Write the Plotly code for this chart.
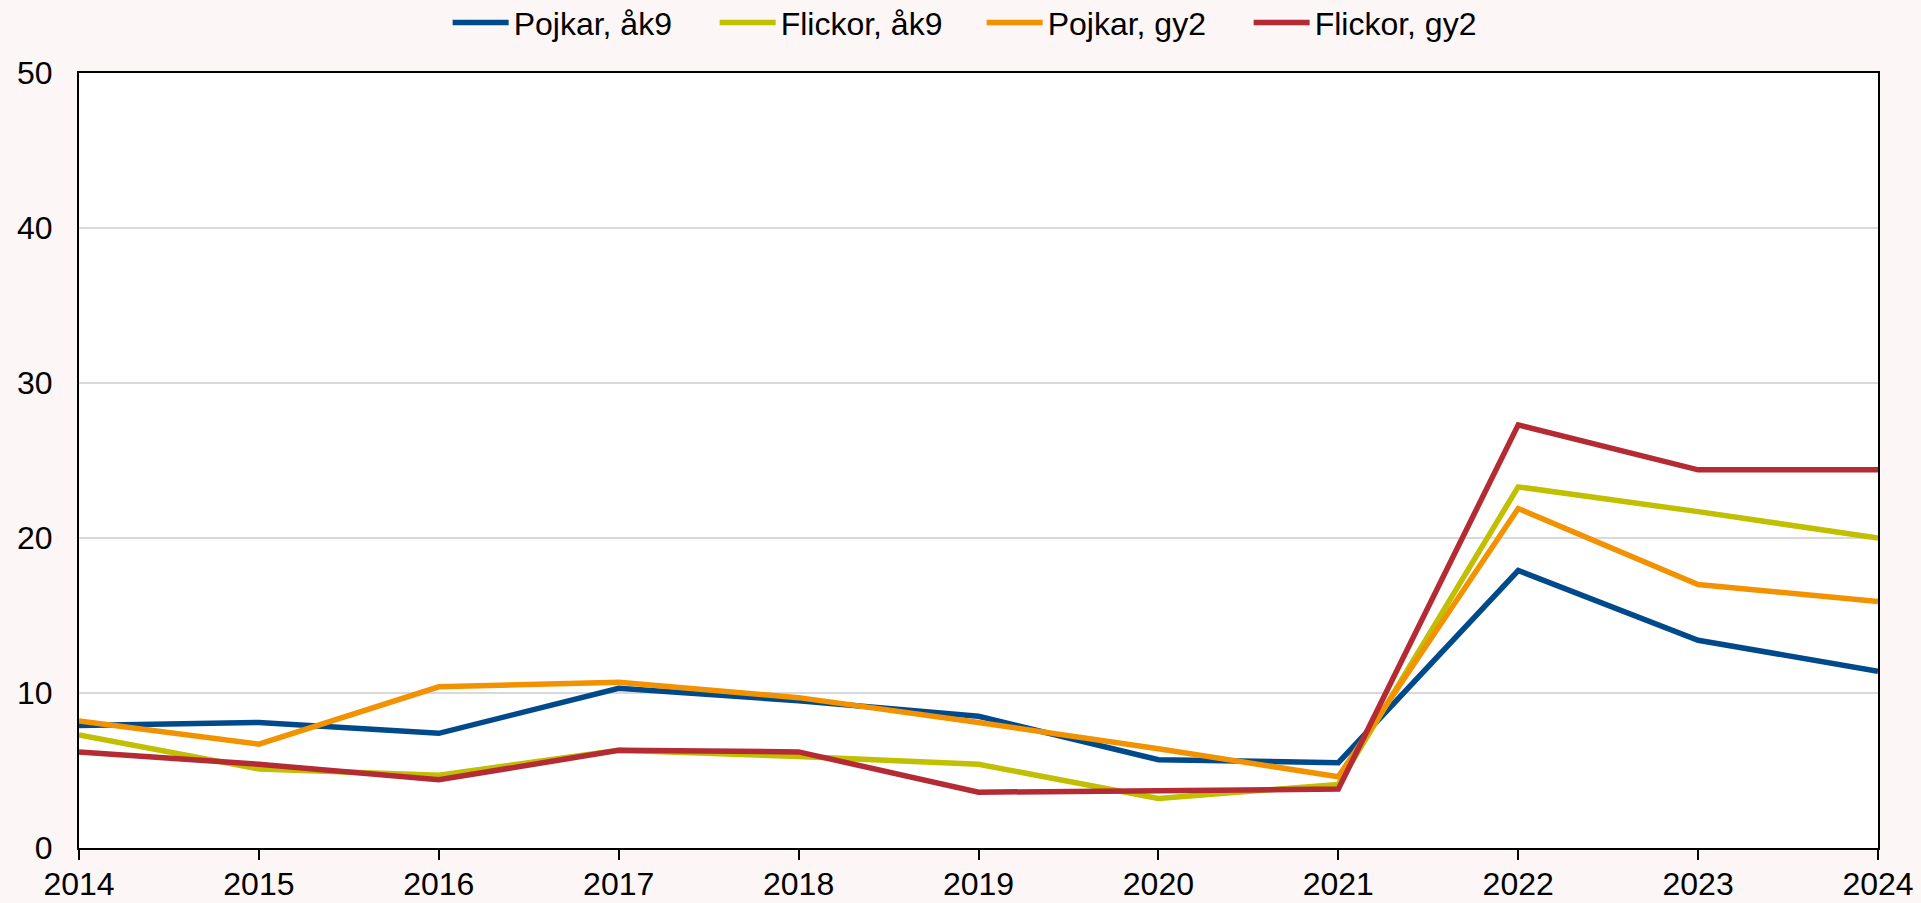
import plotly.graph_objects as go

years = [2014, 2015, 2016, 2017, 2018, 2019, 2020, 2021, 2022, 2023, 2024]
pojkar_ak9 = [7.9, 8.1, 7.4, 10.3, 9.5, 8.5, 5.7, 5.5, 17.9, 13.4, 11.4]
flickor_ak9 = [7.3, 5.1, 4.7, 6.3, 5.9, 5.4, 3.2, 4.1, 23.3, 21.7, 20.0]
pojkar_gy2 = [8.2, 6.7, 10.4, 10.7, 9.7, 8.1, 6.4, 4.6, 21.9, 17.0, 15.9]
flickor_gy2 = [6.2, 5.4, 4.4, 6.3, 6.2, 3.6, 3.7, 3.8, 27.3, 24.4, 24.4]

series = [
    ("Pojkar, åk9", pojkar_ak9, "#004a8c"),
    ("Flickor, åk9", flickor_ak9, "#c0bf00"),
    ("Pojkar, gy2", pojkar_gy2, "#f39200"),
    ("Flickor, gy2", flickor_gy2, "#b52b33"),
]

fig = go.Figure()
for name, vals, col in series:
    fig.add_trace(go.Scatter(x=years, y=vals, name=name, mode="lines",
                             line=dict(color=col, width=5.5)))

font = "Liberation Sans, Arial, sans-serif"
fig.update_layout(
    width=1921, height=903,
    margin=dict(l=79, r=43, t=73, b=55, autoexpand=False),
    paper_bgcolor="#fcf6f6",
    plot_bgcolor="#ffffff",
    font=dict(family=font, size=32, color="#000000"),
    legend=dict(orientation="h", xref="container", yref="container",
                x=0.511, xanchor="center", y=0.975, yanchor="middle",
                font=dict(size=32), itemwidth=56, entrywidth=196,
                bgcolor="rgba(0,0,0,0)"),
    xaxis=dict(range=[2014, 2024], tickmode="array", tickvals=years,
               ticktext=[str(y) for y in years], showgrid=False,
               showline=True, linecolor="#000000", linewidth=2, mirror=True,
               ticks="outside", ticklen=10, tickwidth=1.5, tickcolor="#000000",
               zeroline=False, ticklabelstandoff=-3),
    yaxis=dict(range=[0, 50], tickvals=[0, 10, 20, 30, 40, 50],
               showgrid=True, gridcolor="#d9d9d9", gridwidth=1.5,
               showline=True, linecolor="#000000", linewidth=2, mirror=True,
               ticks="", zeroline=False, ticklabelstandoff=18),
)

fig.write_html("out.html", config={"displayModeBar": False},
               post_script="document.body.style.margin='0';document.body.style.background='#fcf6f6';")
